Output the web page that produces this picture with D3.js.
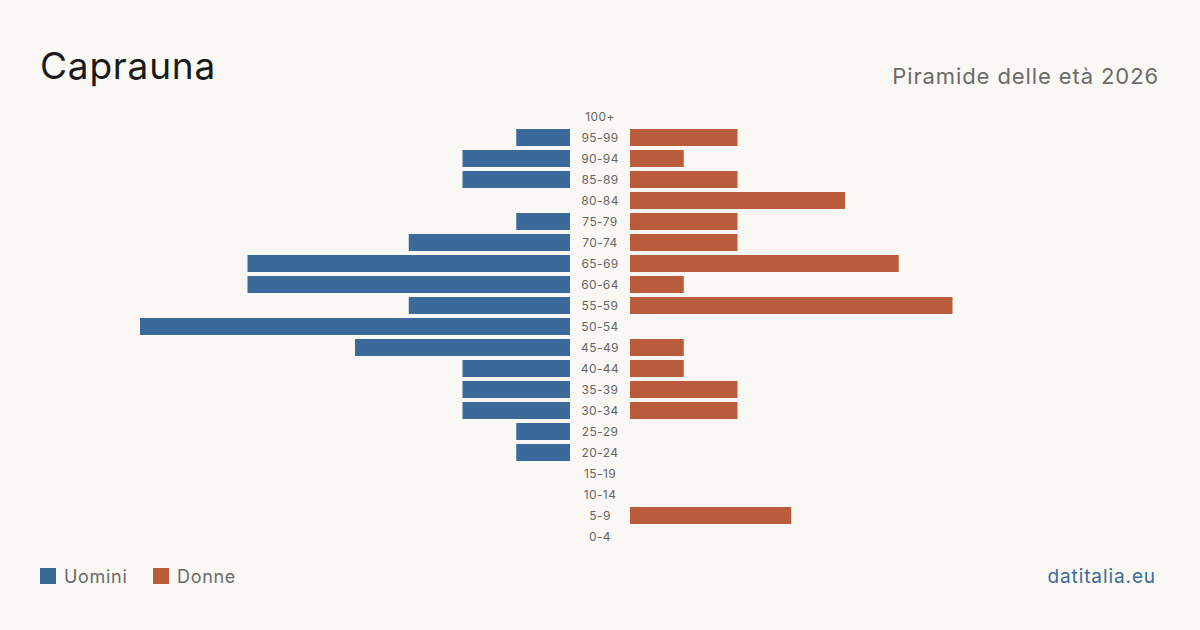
<!DOCTYPE html>
<html>
<head>
<meta charset="utf-8">
<script src="https://d3js.org/d3.v7.min.js"></script>
<style>
  html, body { margin: 0; padding: 0; background: #f9f8f4; }
  svg text { font-family: Inter, "Noto Sans", sans-serif; }
</style>
</head>
<body>
<div id="chart"></div>
<script>
(function() {
  // --- dati ---
  const classi = ["100+", "95-99", "90-94", "85-89", "80-84", "75-79", "70-74", "65-69",
                  "60-64", "55-59", "50-54", "45-49", "40-44", "35-39", "30-34",
                  "25-29", "20-24", "15-19", "10-14", "5-9", "0-4"];
  const uomini = [0, 1, 2, 2, 0, 1, 3, 6, 6, 3, 8, 4, 2, 2, 2, 1, 1, 0, 0, 0, 0];
  const donne  = [0, 2, 1, 2, 4, 2, 2, 5, 1, 6, 0, 1, 1, 2, 2, 0, 0, 0, 0, 3, 0];

  const width = 1200, height = 630;
  const colUomini = "#3b6a9a", colDonne = "#b85c3c";

  const svg = d3.select("#chart").append("svg")
    .attr("width", width)
    .attr("height", height)
    .style("background", "#f9f8f4");

  // titolo
  svg.append("text")
    .attr("x", 40).attr("y", 79)
    .attr("font-size", 37)
    .attr("letter-spacing", 0.8)
    .attr("fill", "#1a1a1a")
    .text("Caprauna");

  svg.append("text")
    .attr("x", 1159).attr("y", 84)
    .attr("text-anchor", "end")
    .attr("font-size", 22)
    .attr("letter-spacing", 0.9)
    .attr("fill", "#6b6b6b")
    .text("Piramide delle età 2026");

  // scale
  const y = d3.scaleBand()
    .domain(classi)
    .range([106, 547])
    .paddingInner(0.19)
    .paddingOuter(0.095);

  const maxVal = d3.max(uomini.concat(donne));
  const xL = d3.scaleLinear().domain([0, maxVal]).range([570, 140]);
  const xR = d3.scaleLinear().domain([0, maxVal]).range([630, 1060]);

  // barre uomini
  svg.selectAll(".bar-u")
    .data(classi.map((c, i) => ({ c, v: uomini[i] })))
    .enter().append("rect")
    .attr("class", "bar-u")
    .attr("x", d => xL(d.v))
    .attr("y", d => y(d.c))
    .attr("width", d => xL(0) - xL(d.v))
    .attr("height", y.bandwidth())
    .attr("fill", colUomini);

  // barre donne
  svg.selectAll(".bar-d")
    .data(classi.map((c, i) => ({ c, v: donne[i] })))
    .enter().append("rect")
    .attr("class", "bar-d")
    .attr("x", xR(0))
    .attr("y", d => y(d.c))
    .attr("width", d => xR(d.v) - xR(0))
    .attr("height", y.bandwidth())
    .attr("fill", colDonne);

  // etichette classi
  svg.selectAll(".lbl")
    .data(classi)
    .enter().append("text")
    .attr("class", "lbl")
    .attr("x", 600)
    .attr("y", d => y(d) + y.bandwidth() / 2)
    .attr("dy", "0.35em")
    .attr("text-anchor", "middle")
    .attr("font-size", 12)
    .attr("letter-spacing", 0.4)
    .attr("fill", "#666")
    .text(d => d);

  // legenda
  const legenda = [
    { nome: "Uomini", col: colUomini, x: 40 },
    { nome: "Donne", col: colDonne, x: 153 }
  ];
  const lg = svg.selectAll(".leg").data(legenda).enter().append("g")
    .attr("transform", d => `translate(${d.x},568)`);
  lg.append("rect").attr("width", 16).attr("height", 16).attr("fill", d => d.col);
  lg.append("text")
    .attr("x", 24).attr("y", 14.5)
    .attr("font-size", 18)
    .attr("letter-spacing", 0.7)
    .attr("fill", "#6b6b6b")
    .text(d => d.nome);

  svg.append("text")
    .attr("x", 1156).attr("y", 582.5)
    .attr("text-anchor", "end")
    .attr("font-size", 19)
    .attr("letter-spacing", 0.9)
    .attr("fill", colUomini)
    .text("datitalia.eu");
})();
</script>
</body>
</html>
